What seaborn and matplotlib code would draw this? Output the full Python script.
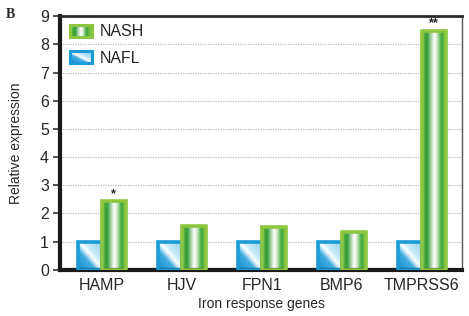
import numpy as np
import pandas as pd
import matplotlib
matplotlib.use("Agg")
import matplotlib.pyplot as plt
import seaborn as sns
from matplotlib.colors import LinearSegmentedColormap
from matplotlib.patches import Rectangle
from matplotlib.legend_handler import HandlerBase
from matplotlib.image import BboxImage
from matplotlib.transforms import Bbox, TransformedBbox

genes = ["HAMP", "HJV", "FPN1", "BMP6", "TMPRSS6"]
nafl = [1.0, 1.0, 1.0, 1.0, 1.0]
nash = [2.43, 1.57, 1.52, 1.33, 8.47]
stars = ["*", "", "", "", "**"]
groups = ["NAFL", "NASH"]
yticks = list(range(0, 10))

df = pd.DataFrame({
    "gene": genes * 2,
    "group": ["NAFL"] * len(genes) + ["NASH"] * len(genes),
    "value": nafl + nash,
})

sns.set_theme(style="white")
plt.rcParams["font.family"] = ["Liberation Sans Narrow", "Liberation Sans", "DejaVu Sans"]

green_edge = "#8cc63e"
blue_edge = "#1a9bd7"
green_cmap = LinearSegmentedColormap.from_list("g", [
    (0.0, "#6fbf44"), (0.2, "#2e9b36"), (0.48, "#ffffff"),
    (0.58, "#e4f3d8"), (0.78, "#3fa83a"), (1.0, "#7cc444")])
blue_cmap = LinearSegmentedColormap.from_list("b", [
    (0.0, "#1a92d2"), (0.35, "#41ade2"), (0.5, "#ffffff"),
    (0.62, "#c8e9f9"), (1.0, "#8fd0f0")])

def grad_array(kind, n=64):
    u = np.linspace(0, 1, n)
    if kind == "NASH":
        a = np.tile(u, (n, 1))
        return green_cmap(a)
    X, Y = np.meshgrid(u, u)  # Y row 0 = top (origin upper)
    t = (X - Y + 1) / 2
    return blue_cmap(t)

fig = plt.figure(figsize=(4.69, 3.16), dpi=100)
ax = fig.add_axes([0.128, 0.146, 0.857, 0.803])

sns.barplot(data=df, x="gene", y="value", hue="group", hue_order=groups,
            order=genes, width=0.6, gap=0, ax=ax, legend=False,
            palette={"NAFL": blue_edge, "NASH": green_edge}, zorder=3)

for container, grp in zip(ax.containers, groups):
    ec = blue_edge if grp == "NAFL" else green_edge
    img = grad_array(grp)
    for bar in container.patches:
        x0, w, h = bar.get_x(), bar.get_width(), bar.get_height()
        bar.set_facecolor("none")
        bar.set_edgecolor(ec)
        bar.set_linewidth(2.6)
        bar.set_zorder(3)
        im = ax.imshow(img, extent=(x0, x0 + w, 0, h), aspect="auto",
                       interpolation="bicubic", zorder=2.5, origin="upper")
        im.set_clip_path(bar)

nash_bars = ax.containers[1].patches
for bar, s in zip(nash_bars, stars):
    if s:
        ax.annotate(s, (bar.get_x() + bar.get_width() / 2, bar.get_height()),
                    xytext=(0, 1), textcoords="offset points", ha="center",
                    va="bottom", fontsize=9, fontweight="bold", color="#222222")

ax.set_xlim(-0.52, 4.5)
ax.set_ylim(0, 9)
ax.set_yticks(yticks)
ax.set_yticklabels([str(v) for v in yticks], fontsize=11.5)
ax.set_xticks(range(len(genes)))
ax.set_xticklabels(genes, fontsize=11.5)
ax.set_xticks(np.arange(0.5, len(genes) - 0.4, 1), minor=True)
ax.tick_params(axis="x", which="major", length=0, pad=6)
ax.tick_params(axis="x", which="minor", length=4, width=1.2, color="#222222", direction="out")
ax.tick_params(axis="y", length=5, width=1.2, color="#333333", direction="out", pad=3, left=True)
ax.yaxis.grid(True, linestyle=(0, (1, 1)), color="#bbbbbb", linewidth=0.9, zorder=0)
ax.set_axisbelow(True)

ax.set_xlabel("Iron response genes", fontsize=10, labelpad=3)
ax.set_ylabel("Relative expression", fontsize=10, labelpad=12)

for side, lw, col in [("left", 3.0, "#1a1a1a"), ("bottom", 3.0, "#1a1a1a"),
                      ("top", 2.0, "#2a2a2a"), ("right", 1.0, "#555555")]:
    ax.spines[side].set_visible(True)
    ax.spines[side].set_linewidth(lw)
    ax.spines[side].set_color(col)


class GradHandler(HandlerBase):
    def __init__(self, kind, ec):
        super().__init__()
        self.kind = kind
        self.ec = ec

    def create_artists(self, legend, orig_handle, xdescent, ydescent, width,
                       height, fontsize, trans):
        bb = TransformedBbox(Bbox.from_bounds(-xdescent + 1, -ydescent + 1, width - 2, height - 2), trans)
        bim = BboxImage(bb, interpolation="bicubic")
        bim.set_data(grad_array(self.kind))
        rect = Rectangle((-xdescent, -ydescent), width, height, facecolor="none",
                         edgecolor=self.ec, linewidth=2.2, transform=trans)
        return [bim, rect]


h_nash = Rectangle((0, 0), 1, 1)
h_nafl = Rectangle((0, 0), 1, 1)
leg = ax.legend([h_nash, h_nafl], ["NASH", "NAFL"], loc="upper left",
                bbox_to_anchor=(0.025, 0.967), frameon=False, fontsize=11.5,
                borderpad=0, borderaxespad=0,
                handlelength=1.4, handleheight=0.8, labelspacing=0.7,
                handletextpad=0.45,
                handler_map={h_nash: GradHandler("NASH", green_edge),
                             h_nafl: GradHandler("NAFL", blue_edge)})

fig.text(0.012, 0.975, "B", fontsize=10, fontweight="bold", va="top", ha="left",
         family=["Liberation Serif", "DejaVu Serif"])

fig.savefig("out.png", dpi=100)
